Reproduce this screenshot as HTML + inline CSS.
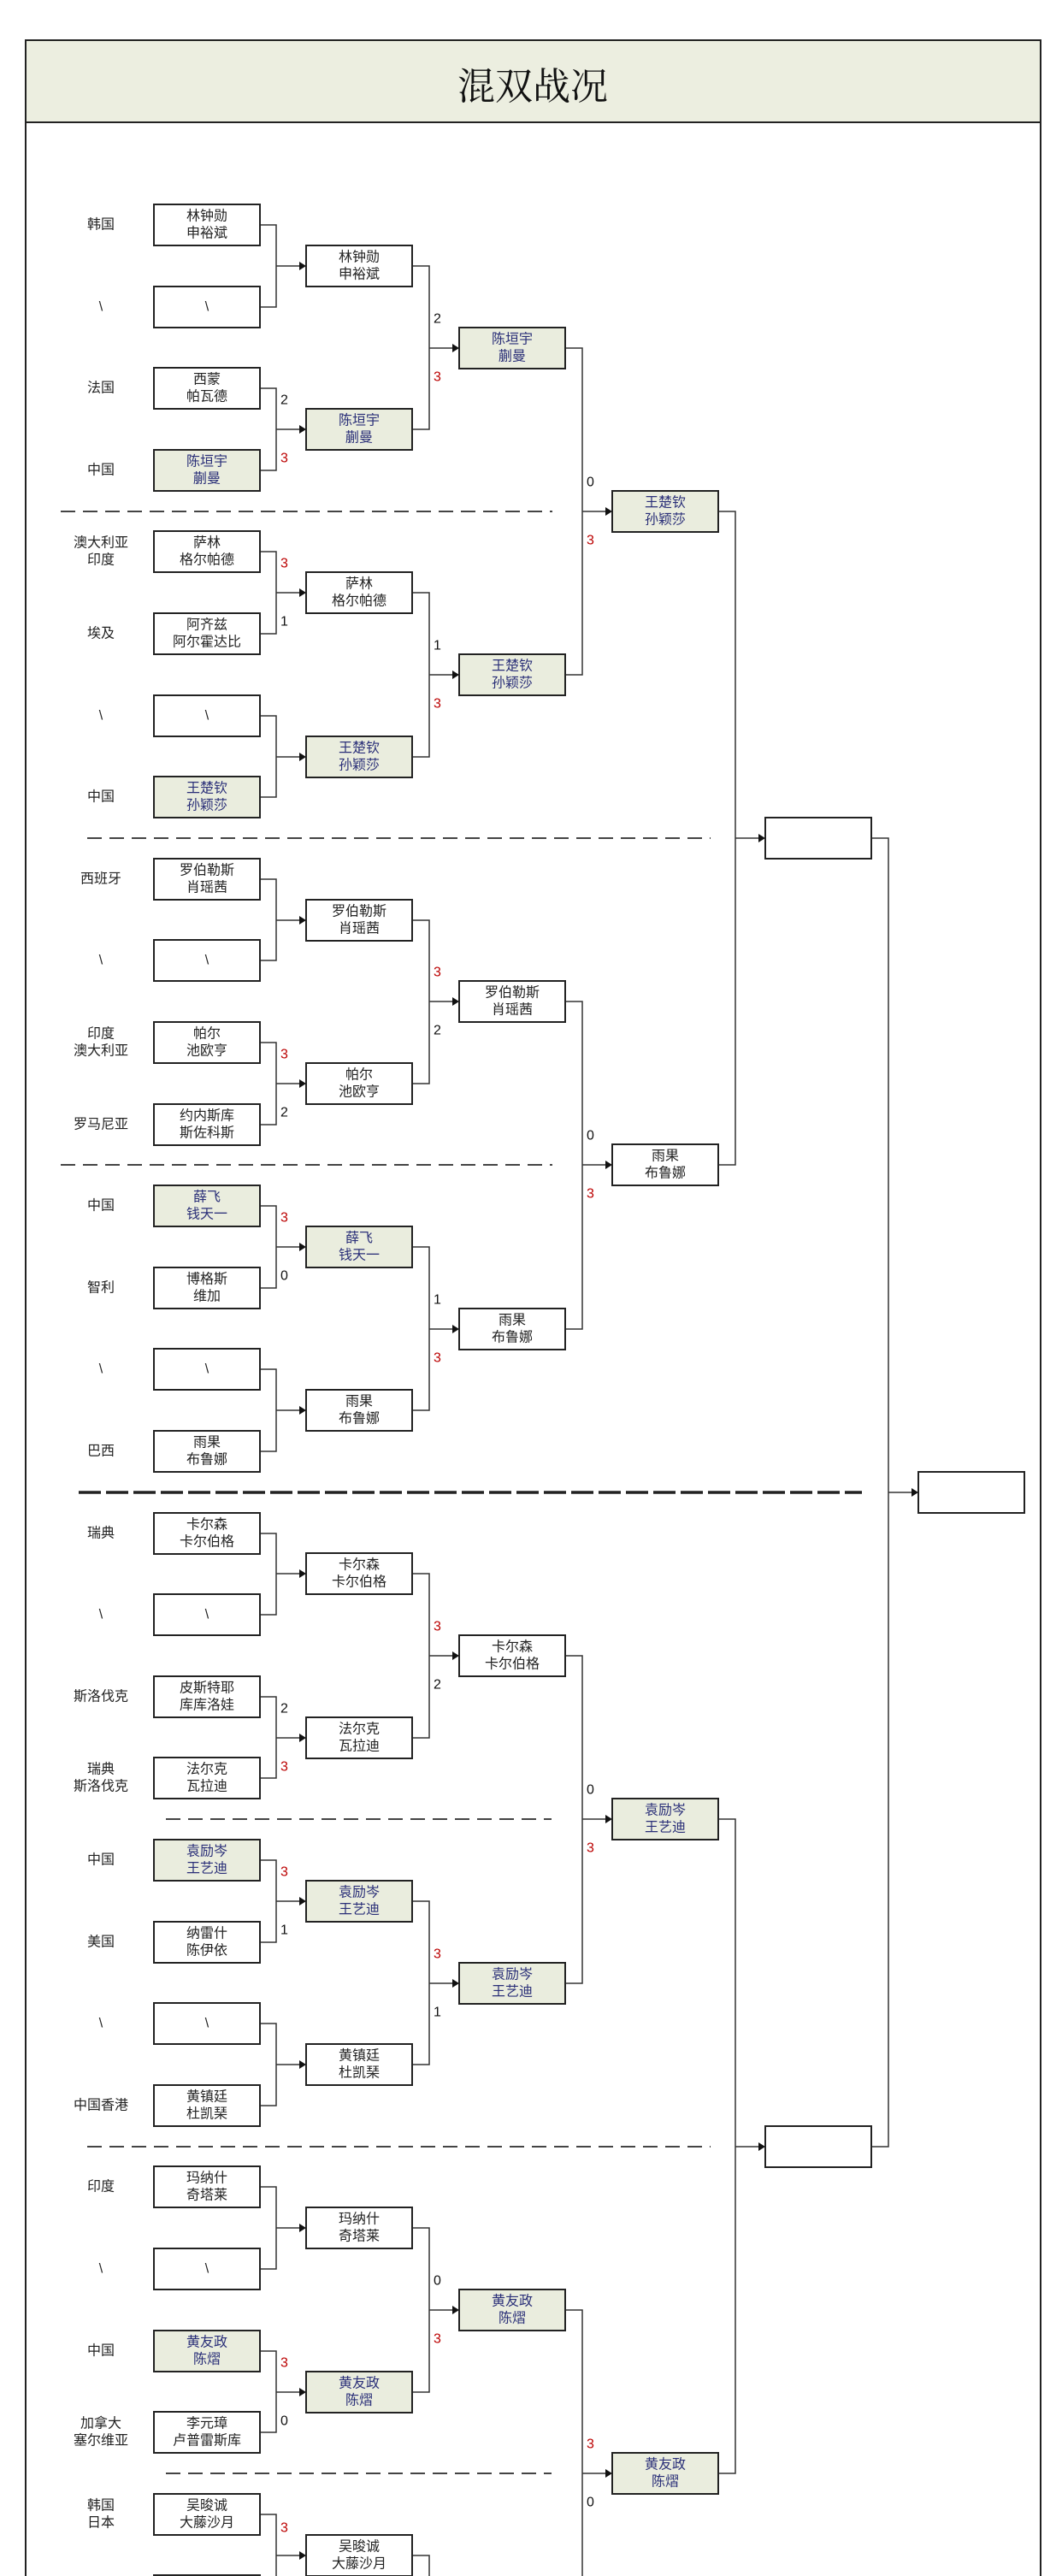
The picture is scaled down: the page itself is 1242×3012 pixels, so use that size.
<!DOCTYPE html>
<html><head><meta charset="utf-8"><style>
html,body{margin:0;padding:0;background:#fff}
svg{display:block}
text{font-family:"Liberation Sans","Noto Sans CJK SC",sans-serif}
</style></head><body>
<svg width="1242" height="3012" viewBox="0 0 1242 3012" xmlns="http://www.w3.org/2000/svg">
<rect x="0" y="0" width="1242" height="3012" fill="#fff"/>
<!-- frame -->
<rect x="30" y="47" width="1187" height="96" fill="#eceee0" stroke="#222" stroke-width="2"/>
<line x1="30" y1="143" x2="30" y2="3012" stroke="#222" stroke-width="2"/>
<line x1="1217" y1="143" x2="1217" y2="3012" stroke="#222" stroke-width="2"/>
<text x="623" y="97" font-size="44" text-anchor="middle" dominant-baseline="central" fill="#111" style='font-family:"Noto Serif CJK SC","Liberation Serif",serif'>混双战况</text>

<!-- separators -->
<g stroke="#444" stroke-width="2" stroke-dasharray="17 9" fill="none">
<line x1="71" y1="598" x2="646" y2="598"/>
<line x1="102" y1="980" x2="831" y2="980"/>
<line x1="71" y1="1362" x2="646" y2="1362"/>
<line x1="194" y1="2127" x2="645" y2="2127"/>
<line x1="102" y1="2510" x2="831" y2="2510"/>
<line x1="194" y1="2892" x2="645" y2="2892"/>
</g>
<line x1="92" y1="1745" x2="1008" y2="1745" stroke="#222" stroke-width="3.5" stroke-dasharray="26 6"/>

<!-- connectors -->
<g stroke="#333" stroke-width="1.5" fill="none">
<path d="M304 263H323V359H304M323 311H352"/>
<path d="M304 454H323V550H304M323 502H352"/>
<path d="M304 645H323V741H304M323 693H352"/>
<path d="M304 837H323V932H304M323 885H352"/>
<path d="M304 1028H323V1123H304M323 1076H352"/>
<path d="M304 1219H323V1315H304M323 1267H352"/>
<path d="M304 1410H323V1506H304M323 1458H352"/>
<path d="M304 1601H323V1697H304M323 1649H352"/>
<path d="M304 1793H323V1888H304M323 1840H352"/>
<path d="M304 1984H323V2079H304M323 2032H352"/>
<path d="M304 2175H323V2271H304M323 2223H352"/>
<path d="M304 2366H323V2462H304M323 2414H352"/>
<path d="M304 2557H323V2653H304M323 2605H352"/>
<path d="M304 2749H323V2844H304M323 2797H352"/>
<path d="M304 2940H323V3035H304M323 2988H352"/>

<path d="M482 311H502V502H482M502 407H531"/>
<path d="M482 693H502V885H482M502 789H531"/>
<path d="M482 1076H502V1267H482M502 1171H531"/>
<path d="M482 1458H502V1649H482M502 1554H531"/>
<path d="M482 1840H502V2032H482M502 1936H531"/>
<path d="M482 2223H502V2414H482M502 2319H531"/>
<path d="M482 2605H502V2797H482M502 2701H531"/>
<path d="M482 2988H502V3012"/>

<path d="M661 407H681V789H661M681 598H710"/>
<path d="M661 1171H681V1554H661M681 1362H710"/>
<path d="M661 1936H681V2319H661M681 2127H710"/>
<path d="M661 2701H681V3012M681 2892H710"/>

<path d="M840 598H860V1362H840M860 980H889"/>
<path d="M840 2127H860V2892H840M860 2510H889"/>

<path d="M1019 980H1039V2510H1019M1039 1745H1068"/>
</g>
<g fill="#111">
<polygon points="350,306 358,311 350,316"/><polygon points="350,497 358,502 350,507"/>
<polygon points="350,688 358,693 350,698"/><polygon points="350,880 358,885 350,890"/>
<polygon points="350,1071 358,1076 350,1081"/><polygon points="350,1262 358,1267 350,1272"/>
<polygon points="350,1453 358,1458 350,1463"/><polygon points="350,1644 358,1649 350,1654"/>
<polygon points="350,1835 358,1840 350,1845"/><polygon points="350,2027 358,2032 350,2037"/>
<polygon points="350,2218 358,2223 350,2228"/><polygon points="350,2409 358,2414 350,2419"/>
<polygon points="350,2600 358,2605 350,2610"/><polygon points="350,2792 358,2797 350,2802"/>
<polygon points="350,2983 358,2988 350,2993"/>
<polygon points="529,402 537,407 529,412"/><polygon points="529,784 537,789 529,794"/>
<polygon points="529,1166 537,1171 529,1176"/><polygon points="529,1549 537,1554 529,1559"/>
<polygon points="529,1931 537,1936 529,1941"/><polygon points="529,2314 537,2319 529,2324"/>
<polygon points="529,2696 537,2701 529,2706"/>
<polygon points="708,593 716,598 708,603"/><polygon points="708,1357 716,1362 708,1367"/>
<polygon points="708,2122 716,2127 708,2132"/><polygon points="708,2887 716,2892 708,2897"/>
<polygon points="887,975 895,980 887,985"/><polygon points="887,2505 895,2510 887,2515"/>
<polygon points="1066,1740 1074,1745 1066,1750"/>
</g>

<!-- scores -->
<g font-size="16" dominant-baseline="central">
<text x="328" y="468" fill="#111">2</text><text x="328" y="536" fill="#b00">3</text>
<text x="328" y="659" fill="#b00">3</text><text x="328" y="727" fill="#111">1</text>
<text x="328" y="1233" fill="#b00">3</text><text x="328" y="1301" fill="#111">2</text>
<text x="328" y="1424" fill="#b00">3</text><text x="328" y="1492" fill="#111">0</text>
<text x="328" y="1998" fill="#111">2</text><text x="328" y="2066" fill="#b00">3</text>
<text x="328" y="2189" fill="#b00">3</text><text x="328" y="2257" fill="#111">1</text>
<text x="328" y="2763" fill="#b00">3</text><text x="328" y="2831" fill="#111">0</text>
<text x="328" y="2956" fill="#b00">3</text>

<text x="507" y="373" fill="#111">2</text><text x="507" y="441" fill="#b00">3</text>
<text x="507" y="755" fill="#111">1</text><text x="507" y="823" fill="#b00">3</text>
<text x="507" y="1137" fill="#b00">3</text><text x="507" y="1205" fill="#111">2</text>
<text x="507" y="1520" fill="#111">1</text><text x="507" y="1588" fill="#b00">3</text>
<text x="507" y="1902" fill="#b00">3</text><text x="507" y="1970" fill="#111">2</text>
<text x="507" y="2285" fill="#b00">3</text><text x="507" y="2353" fill="#111">1</text>
<text x="507" y="2667" fill="#111">0</text><text x="507" y="2735" fill="#b00">3</text>

<text x="686" y="564" fill="#111">0</text><text x="686" y="632" fill="#b00">3</text>
<text x="686" y="1328" fill="#111">0</text><text x="686" y="1396" fill="#b00">3</text>
<text x="686" y="2093" fill="#111">0</text><text x="686" y="2161" fill="#b00">3</text>
<text x="686" y="2858" fill="#b00">3</text><text x="686" y="2926" fill="#111">0</text>
</g>

<!-- country labels -->
<g font-size="16" text-anchor="middle" dominant-baseline="central" fill="#222">
<text x="118" y="263">韩国</text>
<text x="118" y="359">\</text>
<text x="118" y="454">法国</text>
<text x="118" y="550">中国</text>
<text x="118" y="635">澳大利亚</text><text x="118" y="655">印度</text>
<text x="118" y="741">埃及</text>
<text x="118" y="837">\</text>
<text x="118" y="932">中国</text>
<text x="118" y="1028">西班牙</text>
<text x="118" y="1123">\</text>
<text x="118" y="1209">印度</text><text x="118" y="1229">澳大利亚</text>
<text x="118" y="1315">罗马尼亚</text>
<text x="118" y="1410">中国</text>
<text x="118" y="1506">智利</text>
<text x="118" y="1601">\</text>
<text x="118" y="1697">巴西</text>
<text x="118" y="1793">瑞典</text>
<text x="118" y="1888">\</text>
<text x="118" y="1984">斯洛伐克</text>
<text x="118" y="2069">瑞典</text><text x="118" y="2089">斯洛伐克</text>
<text x="118" y="2175">中国</text>
<text x="118" y="2271">美国</text>
<text x="118" y="2366">\</text>
<text x="118" y="2462">中国香港</text>
<text x="118" y="2557">印度</text>
<text x="118" y="2653">\</text>
<text x="118" y="2749">中国</text>
<text x="118" y="2834">加拿大</text><text x="118" y="2854">塞尔维亚</text>
<text x="118" y="2930">韩国</text><text x="118" y="2950">日本</text>
</g>

<!-- boxes -->
<g stroke="#222" stroke-width="2">
<!-- R1 -->
<rect x="180" y="239" width="124" height="48" fill="#fff"/>
<rect x="180" y="335" width="124" height="48" fill="#fff"/>
<rect x="180" y="430" width="124" height="48" fill="#fff"/>
<rect x="180" y="526" width="124" height="48" fill="#eaedde"/>
<rect x="180" y="621" width="124" height="48" fill="#fff"/>
<rect x="180" y="717" width="124" height="48" fill="#fff"/>
<rect x="180" y="813" width="124" height="48" fill="#fff"/>
<rect x="180" y="908" width="124" height="48" fill="#eaedde"/>
<rect x="180" y="1004" width="124" height="48" fill="#fff"/>
<rect x="180" y="1099" width="124" height="48" fill="#fff"/>
<rect x="180" y="1195" width="124" height="48" fill="#fff"/>
<rect x="180" y="1291" width="124" height="48" fill="#fff"/>
<rect x="180" y="1386" width="124" height="48" fill="#eaedde"/>
<rect x="180" y="1482" width="124" height="48" fill="#fff"/>
<rect x="180" y="1577" width="124" height="48" fill="#fff"/>
<rect x="180" y="1673" width="124" height="48" fill="#fff"/>
<rect x="180" y="1769" width="124" height="48" fill="#fff"/>
<rect x="180" y="1864" width="124" height="48" fill="#fff"/>
<rect x="180" y="1960" width="124" height="48" fill="#fff"/>
<rect x="180" y="2055" width="124" height="48" fill="#fff"/>
<rect x="180" y="2151" width="124" height="48" fill="#eaedde"/>
<rect x="180" y="2247" width="124" height="48" fill="#fff"/>
<rect x="180" y="2342" width="124" height="48" fill="#fff"/>
<rect x="180" y="2438" width="124" height="48" fill="#fff"/>
<rect x="180" y="2533" width="124" height="48" fill="#fff"/>
<rect x="180" y="2629" width="124" height="48" fill="#fff"/>
<rect x="180" y="2725" width="124" height="48" fill="#eaedde"/>
<rect x="180" y="2820" width="124" height="48" fill="#fff"/>
<rect x="180" y="2916" width="124" height="48" fill="#fff"/>
<rect x="180" y="3011" width="124" height="48" fill="#fff"/>
<!-- R2 -->
<rect x="358" y="287" width="124" height="48" fill="#fff"/>
<rect x="358" y="478" width="124" height="48" fill="#eaedde"/>
<rect x="358" y="669" width="124" height="48" fill="#fff"/>
<rect x="358" y="861" width="124" height="48" fill="#eaedde"/>
<rect x="358" y="1052" width="124" height="48" fill="#fff"/>
<rect x="358" y="1243" width="124" height="48" fill="#fff"/>
<rect x="358" y="1434" width="124" height="48" fill="#eaedde"/>
<rect x="358" y="1625" width="124" height="48" fill="#fff"/>
<rect x="358" y="1816" width="124" height="48" fill="#fff"/>
<rect x="358" y="2008" width="124" height="48" fill="#fff"/>
<rect x="358" y="2199" width="124" height="48" fill="#eaedde"/>
<rect x="358" y="2390" width="124" height="48" fill="#fff"/>
<rect x="358" y="2581" width="124" height="48" fill="#fff"/>
<rect x="358" y="2773" width="124" height="48" fill="#eaedde"/>
<rect x="358" y="2964" width="124" height="48" fill="#fff"/>
<!-- R3 -->
<rect x="537" y="383" width="124" height="48" fill="#eaedde"/>
<rect x="537" y="765" width="124" height="48" fill="#eaedde"/>
<rect x="537" y="1147" width="124" height="48" fill="#fff"/>
<rect x="537" y="1530" width="124" height="48" fill="#fff"/>
<rect x="537" y="1912" width="124" height="48" fill="#fff"/>
<rect x="537" y="2295" width="124" height="48" fill="#eaedde"/>
<rect x="537" y="2677" width="124" height="48" fill="#eaedde"/>
<!-- R4 -->
<rect x="716" y="574" width="124" height="48" fill="#eaedde"/>
<rect x="716" y="1338" width="124" height="48" fill="#fff"/>
<rect x="716" y="2103" width="124" height="48" fill="#eaedde"/>
<rect x="716" y="2868" width="124" height="48" fill="#eaedde"/>
<!-- R5 / final -->
<rect x="895" y="956" width="124" height="48" fill="#fff"/>
<rect x="895" y="2486" width="124" height="48" fill="#fff"/>
<rect x="1074" y="1721" width="124" height="48" fill="#fff"/>
</g>

<!-- box texts -->
<g font-size="16" text-anchor="middle" dominant-baseline="central" fill="#222">
<text x="242" y="253">林钟勋</text><text x="242" y="273">申裕斌</text>
<text x="242" y="359">\</text>
<text x="242" y="444">西蒙</text><text x="242" y="464">帕瓦德</text>
<text x="242" y="635">萨林</text><text x="242" y="655">格尔帕德</text>
<text x="242" y="731">阿齐兹</text><text x="242" y="751">阿尔霍达比</text>
<text x="242" y="837">\</text>
<text x="242" y="1018">罗伯勒斯</text><text x="242" y="1038">肖瑶茜</text>
<text x="242" y="1123">\</text>
<text x="242" y="1209">帕尔</text><text x="242" y="1229">池欧亨</text>
<text x="242" y="1305">约内斯库</text><text x="242" y="1325">斯佐科斯</text>
<text x="242" y="1496">博格斯</text><text x="242" y="1516">维加</text>
<text x="242" y="1601">\</text>
<text x="242" y="1687">雨果</text><text x="242" y="1707">布鲁娜</text>
<text x="242" y="1783">卡尔森</text><text x="242" y="1803">卡尔伯格</text>
<text x="242" y="1888">\</text>
<text x="242" y="1974">皮斯特耶</text><text x="242" y="1994">库库洛娃</text>
<text x="242" y="2069">法尔克</text><text x="242" y="2089">瓦拉迪</text>
<text x="242" y="2261">纳雷什</text><text x="242" y="2281">陈伊依</text>
<text x="242" y="2366">\</text>
<text x="242" y="2452">黄镇廷</text><text x="242" y="2472">杜凯琹</text>
<text x="242" y="2547">玛纳什</text><text x="242" y="2567">奇塔莱</text>
<text x="242" y="2653">\</text>
<text x="242" y="2834">李元璋</text><text x="242" y="2854">卢普雷斯库</text>
<text x="242" y="2930">吴晙诚</text><text x="242" y="2950">大藤沙月</text>

<text x="420" y="301">林钟勋</text><text x="420" y="321">申裕斌</text>
<text x="420" y="683">萨林</text><text x="420" y="703">格尔帕德</text>
<text x="420" y="1066">罗伯勒斯</text><text x="420" y="1086">肖瑶茜</text>
<text x="420" y="1257">帕尔</text><text x="420" y="1277">池欧亨</text>
<text x="420" y="1639">雨果</text><text x="420" y="1659">布鲁娜</text>
<text x="420" y="1830">卡尔森</text><text x="420" y="1850">卡尔伯格</text>
<text x="420" y="2022">法尔克</text><text x="420" y="2042">瓦拉迪</text>
<text x="420" y="2404">黄镇廷</text><text x="420" y="2424">杜凯琹</text>
<text x="420" y="2595">玛纳什</text><text x="420" y="2615">奇塔莱</text>
<text x="420" y="2978">吴晙诚</text><text x="420" y="2998">大藤沙月</text>

<text x="599" y="1161">罗伯勒斯</text><text x="599" y="1181">肖瑶茜</text>
<text x="599" y="1544">雨果</text><text x="599" y="1564">布鲁娜</text>
<text x="599" y="1926">卡尔森</text><text x="599" y="1946">卡尔伯格</text>
<text x="778" y="1352">雨果</text><text x="778" y="1372">布鲁娜</text>
</g>
<g font-size="16" text-anchor="middle" dominant-baseline="central" fill="#2a2f78">
<text x="242" y="540">陈垣宇</text><text x="242" y="560">蒯曼</text>
<text x="242" y="922">王楚钦</text><text x="242" y="942">孙颖莎</text>
<text x="242" y="1400">薛飞</text><text x="242" y="1420">钱天一</text>
<text x="242" y="2165">袁励岑</text><text x="242" y="2185">王艺迪</text>
<text x="242" y="2739">黄友政</text><text x="242" y="2759">陈熠</text>

<text x="420" y="492">陈垣宇</text><text x="420" y="512">蒯曼</text>
<text x="420" y="875">王楚钦</text><text x="420" y="895">孙颖莎</text>
<text x="420" y="1448">薛飞</text><text x="420" y="1468">钱天一</text>
<text x="420" y="2213">袁励岑</text><text x="420" y="2233">王艺迪</text>
<text x="420" y="2787">黄友政</text><text x="420" y="2807">陈熠</text>

<text x="599" y="397">陈垣宇</text><text x="599" y="417">蒯曼</text>
<text x="599" y="779">王楚钦</text><text x="599" y="799">孙颖莎</text>
<text x="599" y="2309">袁励岑</text><text x="599" y="2329">王艺迪</text>
<text x="599" y="2691">黄友政</text><text x="599" y="2711">陈熠</text>

<text x="778" y="588">王楚钦</text><text x="778" y="608">孙颖莎</text>
<text x="778" y="2117">袁励岑</text><text x="778" y="2137">王艺迪</text>
<text x="778" y="2882">黄友政</text><text x="778" y="2902">陈熠</text>
</g>
</svg>
</body></html>
